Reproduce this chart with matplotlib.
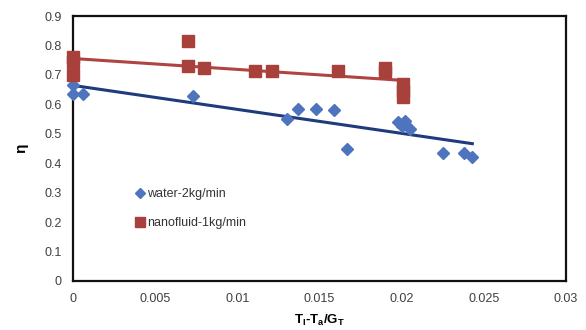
import numpy as np
import matplotlib
matplotlib.use("Agg")
import matplotlib.pyplot as plt

# Reduced temperature parameter (T_I - T_a)/G_T and efficiency values
water_x = [0.0, 0.0, 0.0006, 0.0073, 0.0130, 0.0137, 0.0148, 0.0159, 0.0167,
           0.0198, 0.0202, 0.0200, 0.0205, 0.0225, 0.0238, 0.0243]
water_y = [0.665, 0.635, 0.635, 0.630, 0.550, 0.585, 0.585, 0.580, 0.450,
           0.540, 0.545, 0.525, 0.515, 0.435, 0.435, 0.420]

nano_x = [0.0, 0.0, 0.0, 0.0070, 0.0070, 0.0080, 0.0111, 0.0121, 0.0161,
          0.0190, 0.0190, 0.0201, 0.0201, 0.0201]
nano_y = [0.760, 0.745, 0.700, 0.815, 0.730, 0.725, 0.713, 0.713, 0.712,
          0.725, 0.710, 0.670, 0.645, 0.625]

x_ticks = [0, 0.005, 0.01, 0.015, 0.02, 0.025, 0.03]
x_tick_labels = ["0", "0.005", "0.01", "0.015", "0.02", "0.025", "0.03"]
y_ticks = [0, 0.1, 0.2, 0.3, 0.4, 0.5, 0.6, 0.7, 0.8, 0.9]
y_tick_labels = ["0", "0.1", "0.2", "0.3", "0.4", "0.5", "0.6", "0.7", "0.8", "0.9"]

plt.rcParams['font.family'] = ['Liberation Sans', 'DejaVu Sans']

fig = plt.figure(figsize=(5.86, 3.30), dpi=100)
ax = fig.add_axes([0.1246, 0.1485, 0.8413, 0.803])

blue = "#4F74BE"
red = "#A8403C"
blue_fit = "#1F3A7D"
red_fit = "#B04442"

ax.plot(water_x, water_y, linestyle="none", marker="D", markersize=6.5,
        color=blue, label="water-2kg/min", zorder=3, clip_on=False)
ax.plot(nano_x, nano_y, linestyle="none", marker="s", markersize=8.5,
        color=red, label="nanofluid-1kg/min", zorder=3, clip_on=False)

# Linear trend lines over each data range
for xs, ys, c in [(water_x, water_y, blue_fit), (nano_x, nano_y, red_fit)]:
    k, b = np.polyfit(xs, ys, 1)
    xx = np.array([min(xs), max(xs)])
    ax.plot(xx, k * xx + b, color=c, linewidth=2.2, zorder=2, clip_on=False)

ax.set_xlim(0, 0.03)
ax.set_ylim(0, 0.9)
ax.set_xticks(x_ticks)
ax.set_xticklabels(x_tick_labels)
ax.set_yticks(y_ticks)
ax.set_yticklabels(y_tick_labels)
ax.tick_params(length=0, labelsize=9, colors="#404040")
ax.tick_params(axis="x", pad=9)
ax.tick_params(axis="y", pad=8)

for s in ax.spines.values():
    s.set_linewidth(1.6)
    s.set_color("#111111")

ax.set_ylabel("η", fontsize=11, fontweight="bold", rotation=90, labelpad=12)
ax.set_xlabel("T$_\\mathregular{I}$-T$_\\mathregular{a}$/G$_\\mathregular{T}$",
              fontsize=9.5, fontweight="bold", labelpad=5)

leg = ax.legend(loc="lower left", bbox_to_anchor=(0.1, 0.152), frameon=False,
                fontsize=9, handletextpad=0.05, handlelength=1.0,
                labelspacing=1.4, markerscale=0.85)
for t in leg.get_texts():
    t.set_color("#333333")

fig.savefig("out.png", dpi=100)
